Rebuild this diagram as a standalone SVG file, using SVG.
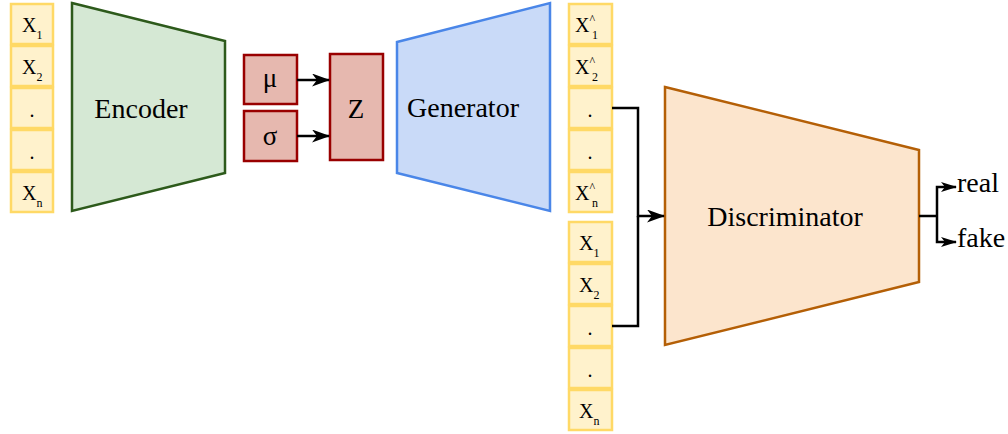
<svg xmlns="http://www.w3.org/2000/svg" width="1008" height="434" viewBox="0 0 1008 434" font-family="Liberation Serif, Times New Roman, DejaVu Serif, serif">
<style>
text{font-family:'Liberation Serif','Times New Roman','DejaVu Serif',serif;fill:#000}
.cell{fill:#FFF2CC;stroke:#FFD966;stroke-width:2.5}
.cx{font-size:20px}
.sub{font-size:12px}
.big{font-size:28px;text-anchor:middle}
.out{font-size:28px;text-anchor:start}
.lbl{font-size:27px;text-anchor:middle}
.conn{fill:none;stroke:#000;stroke-width:2.5}
.red{fill:#E6B8AF;stroke:#990000;stroke-width:2.5}
</style>
<defs>
<marker id="arr" viewBox="0 0 18 13" refX="17" refY="6.5" markerWidth="18" markerHeight="13" markerUnits="userSpaceOnUse" orient="auto"><path d="M0,0 L18,6.5 L0,13 L5,6.5 z" fill="#000"/></marker>
<marker id="arrs" viewBox="0 0 16 10" refX="15" refY="5" markerWidth="16" markerHeight="10" markerUnits="userSpaceOnUse" orient="auto"><path d="M0,0 L16,5 L0,10 L4,5 z" fill="#000"/></marker>
</defs>

<g id="input-x">
<rect class="cell" x="11" y="4" width="42" height="40"/>
<rect class="cell" x="11" y="46" width="42" height="40"/>
<rect class="cell" x="11" y="88" width="42" height="40"/>
<rect class="cell" x="11" y="130" width="42" height="40"/>
<rect class="cell" x="11" y="172" width="42" height="40"/>
<text class="cx" x="22" y="32">X<tspan class="sub" dy="7">1</tspan></text>
<text class="cx" x="22" y="74">X<tspan class="sub" dy="7">2</tspan></text>
<text class="cx" x="32" y="117" text-anchor="middle">.</text>
<text class="cx" x="32" y="159" text-anchor="middle">.</text>
<text class="cx" x="22" y="200">X<tspan class="sub" dy="7">n</tspan></text>
</g>

<g id="encoder">
<polygon points="72,3 225,41 225,173 72,211" fill="#D5E8D4" stroke="#2D5A1B" stroke-width="2.5"/>
<text class="big" x="141" y="118">Encoder</text>
</g>

<g id="mu">
<rect class="red" x="244" y="55" width="53" height="49"/>
<text class="lbl" x="270" y="87">μ</text>
</g>
<g id="sigma">
<rect class="red" x="244" y="111" width="53" height="50"/>
<text class="lbl" x="270" y="145">σ</text>
</g>
<g id="z">
<rect class="red" x="330" y="54" width="53" height="106"/>
<text class="lbl" x="356" y="118">Z</text>
</g>

<g id="generator">
<polygon points="397,42 550,3 550,211 397,173" fill="#C9DAF8" stroke="#4A86E8" stroke-width="2.5"/>
<text class="big" x="463" y="117">Generator</text>
</g>

<g id="generated-x">
<rect class="cell" x="569" y="4" width="43" height="40"/>
<rect class="cell" x="569" y="46" width="43" height="40"/>
<rect class="cell" x="569" y="88" width="43" height="40"/>
<rect class="cell" x="569" y="130" width="43" height="40"/>
<rect class="cell" x="569" y="172" width="43" height="40"/>
<text class="cx" x="575" y="32">X<tspan class="sub" dy="-9">^</tspan><tspan class="sub" dx="-3" dy="16">1</tspan></text>
<text class="cx" x="575" y="74">X<tspan class="sub" dy="-9">^</tspan><tspan class="sub" dx="-3" dy="16">2</tspan></text>
<text class="cx" x="590" y="117" text-anchor="middle">.</text>
<text class="cx" x="590" y="159" text-anchor="middle">.</text>
<text class="cx" x="575" y="200">X<tspan class="sub" dy="-9">^</tspan><tspan class="sub" dx="-3" dy="16">n</tspan></text>
</g>

<g id="real-x">
<rect class="cell" x="569" y="222" width="43" height="40"/>
<rect class="cell" x="569" y="264" width="43" height="40"/>
<rect class="cell" x="569" y="306" width="43" height="40"/>
<rect class="cell" x="569" y="348" width="43" height="40"/>
<rect class="cell" x="569" y="390" width="43" height="40"/>
<text class="cx" x="579" y="250">X<tspan class="sub" dy="7">1</tspan></text>
<text class="cx" x="579" y="292">X<tspan class="sub" dy="7">2</tspan></text>
<text class="cx" x="590" y="335" text-anchor="middle">.</text>
<text class="cx" x="590" y="377" text-anchor="middle">.</text>
<text class="cx" x="579" y="418">X<tspan class="sub" dy="7">n</tspan></text>
</g>

<g id="discriminator">
<polygon points="665,87 919,150 919,282 665,345" fill="#FCE5CD" stroke="#B45F06" stroke-width="2.5"/>
<text class="big" x="785" y="226">Discriminator</text>
</g>

<g id="outputs">
<text class="out" x="957" y="192">real</text>
<text class="out" x="957" y="247">fake</text>
</g>

<g id="connectors">
<path class="conn" d="M297,80 H329" marker-end="url(#arr)"/>
<path class="conn" d="M297,136 H329" marker-end="url(#arr)"/>
<path class="conn" d="M612,108 H638 V216 H664" marker-end="url(#arr)"/>
<path class="conn" d="M612,326 H638 V216"/>
<path class="conn" d="M919,216 H937"/>
<path class="conn" d="M937,216 V187 H956" marker-end="url(#arrs)"/>
<path class="conn" d="M937,216 V242 H956" marker-end="url(#arrs)"/>
</g>
</svg>
